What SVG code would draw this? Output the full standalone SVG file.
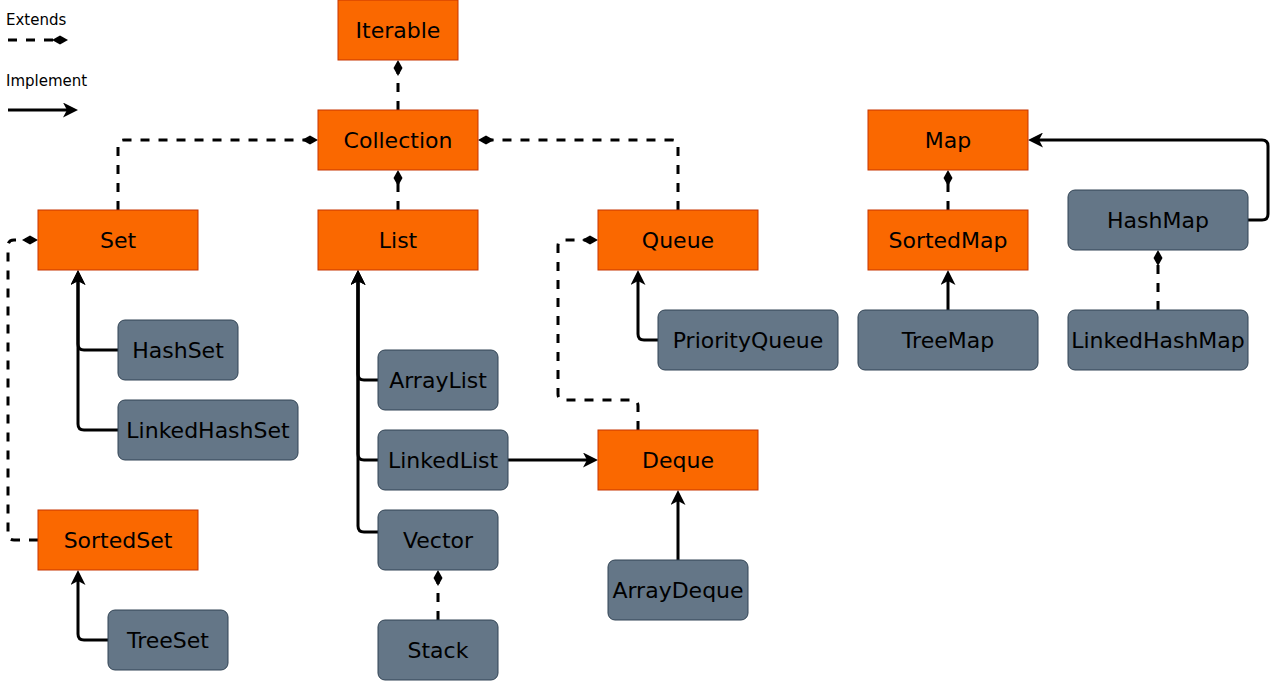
<svg xmlns="http://www.w3.org/2000/svg" width="1279" height="682" viewBox="0 0 1279 682">
<style>
.o{fill:#fa6800;stroke:#C73500;stroke-width:1}
.g{fill:#647687;stroke:#314354;stroke-width:1}
.t{font-family:"DejaVu Sans","Noto Sans",sans-serif;font-size:22px;fill:#000;text-anchor:middle}
.lg{font-family:"DejaVu Sans","Noto Sans",sans-serif;font-size:15px;fill:#000}
.d{fill:none;stroke:#000;stroke-width:3;stroke-dasharray:9 9;marker-end:url(#dia)}
.s{fill:none;stroke:#000;stroke-width:3;marker-end:url(#arr)}
</style>
<defs>
<marker id="dia" markerUnits="userSpaceOnUse" markerWidth="16" markerHeight="10" viewBox="0 0 16 10" refX="12" refY="5" orient="auto">
<path d="M0,5 L8,0.5 L16,5 L8,9.5 Z" fill="#000"/>
</marker>
<marker id="arr" markerUnits="userSpaceOnUse" markerWidth="15" markerHeight="15" viewBox="0 0 15 15" refX="11" refY="7.5" orient="auto">
<path d="M0,0 L15,7.5 L0,15 L4,7.5 Z" fill="#000"/>
</marker>
</defs>
<rect width="1279" height="682" fill="#fff"/>
<g id="legend">
<text class="lg" x="6" y="25">Extends</text>
<path class="d" d="M8,40 H64"/>
<text class="lg" x="6" y="86">Implement</text>
<path class="s" d="M8,110 H74"/>
</g>
<g id="connectors">
<path class="d" d="M398,110 V64"/>
<path class="d" d="M118,210 V146 Q118,140 124,140 H314"/>
<path class="d" d="M678,210 V146 Q678,140 672,140 H482"/>
<path class="d" d="M398,210 V174"/>
<path class="d" d="M38,540 H14 Q8,540 8,534 V246 Q8,240 14,240 H34"/>
<path class="d" d="M638,430 V406 Q638,400 632,400 H564 Q558,400 558,394 V246 Q558,240 564,240 H594"/>
<path class="d" d="M438,620 V574"/>
<path class="d" d="M948,210 V174"/>
<path class="d" d="M1158,310 V254"/>
<path class="s" d="M118,350 H84 Q78,350 78,344 V274"/>
<path class="s" d="M118,430 H84 Q78,430 78,424 V274"/>
<path class="s" d="M108,640 H84 Q78,640 78,634 V574"/>
<path class="s" d="M378,380 H364 Q358,380 358,374 V274"/>
<path class="s" d="M378,460 H364 Q358,460 358,454 V274"/>
<path class="s" d="M378,532 H364 Q358,532 358,526 V274"/>
<path class="s" d="M508,460 H594"/>
<path class="s" d="M658,340 H644 Q638,340 638,334 V274"/>
<path class="s" d="M678,560 V494"/>
<path class="s" d="M948,310 V274"/>
<path class="s" d="M1248,220 H1262 Q1268,220 1268,214 V146 Q1268,140 1262,140 H1032"/>
</g>
<g id="Iterable"><rect class="o" x="338" y="0" width="120" height="60"/><text class="t" x="398" y="38">Iterable</text></g>
<g id="Collection"><rect class="o" x="318" y="110" width="160" height="60"/><text class="t" x="398" y="148">Collection</text></g>
<g id="Set"><rect class="o" x="38" y="210" width="160" height="60"/><text class="t" x="118" y="248">Set</text></g>
<g id="List"><rect class="o" x="318" y="210" width="160" height="60"/><text class="t" x="398" y="248">List</text></g>
<g id="Queue"><rect class="o" x="598" y="210" width="160" height="60"/><text class="t" x="678" y="248">Queue</text></g>
<g id="Map"><rect class="o" x="868" y="110" width="160" height="60"/><text class="t" x="948" y="148">Map</text></g>
<g id="SortedMap"><rect class="o" x="868" y="210" width="160" height="60"/><text class="t" x="948" y="248">SortedMap</text></g>
<g id="Deque"><rect class="o" x="598" y="430" width="160" height="60"/><text class="t" x="678" y="468">Deque</text></g>
<g id="SortedSet"><rect class="o" x="38" y="510" width="160" height="60"/><text class="t" x="118" y="548">SortedSet</text></g>
<g id="HashSet"><rect class="g" x="118" y="320" width="120" height="60" rx="7"/><text class="t" x="178" y="358">HashSet</text></g>
<g id="LinkedHashSet"><rect class="g" x="118" y="400" width="180" height="60" rx="7"/><text class="t" x="208" y="438">LinkedHashSet</text></g>
<g id="TreeSet"><rect class="g" x="108" y="610" width="120" height="60" rx="7"/><text class="t" x="168" y="648">TreeSet</text></g>
<g id="ArrayList"><rect class="g" x="378" y="350" width="120" height="60" rx="7"/><text class="t" x="438" y="388">ArrayList</text></g>
<g id="LinkedList"><rect class="g" x="378" y="430" width="130" height="60" rx="7"/><text class="t" x="443" y="468">LinkedList</text></g>
<g id="Vector"><rect class="g" x="378" y="510" width="120" height="60" rx="7"/><text class="t" x="438" y="548">Vector</text></g>
<g id="Stack"><rect class="g" x="378" y="620" width="120" height="60" rx="7"/><text class="t" x="438" y="658">Stack</text></g>
<g id="PriorityQueue"><rect class="g" x="658" y="310" width="180" height="60" rx="7"/><text class="t" x="748" y="348">PriorityQueue</text></g>
<g id="ArrayDeque"><rect class="g" x="608" y="560" width="140" height="60" rx="7"/><text class="t" x="678" y="598">ArrayDeque</text></g>
<g id="TreeMap"><rect class="g" x="858" y="310" width="180" height="60" rx="7"/><text class="t" x="948" y="348">TreeMap</text></g>
<g id="HashMap"><rect class="g" x="1068" y="190" width="180" height="60" rx="7"/><text class="t" x="1158" y="228">HashMap</text></g>
<g id="LinkedHashMap"><rect class="g" x="1068" y="310" width="180" height="60" rx="7"/><text class="t" x="1158" y="348">LinkedHashMap</text></g>
</svg>
